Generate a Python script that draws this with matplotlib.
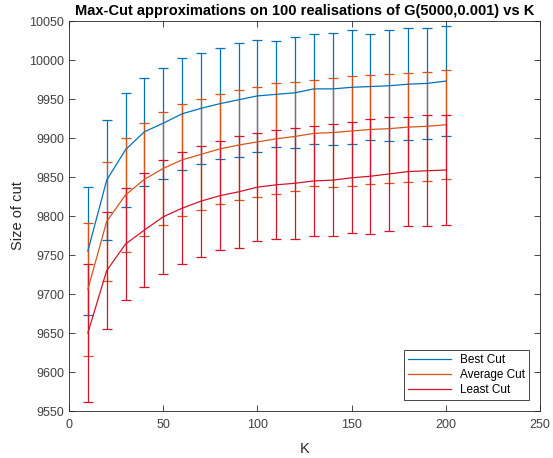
import numpy as np
import matplotlib
matplotlib.use("Agg")
import matplotlib.pyplot as plt
from matplotlib.lines import Line2D

# -------------------------------
# Data
# -------------------------------
K = [10, 20, 30, 40, 50, 60, 70, 80, 90, 100,
     110, 120, 130, 140, 150, 160, 170, 180, 190, 200]

best_mean = [9755, 9846, 9885, 9908, 9919, 9931, 9938, 9944, 9949, 9954,
             9956, 9958, 9963, 9963, 9965, 9966, 9967, 9969, 9970, 9973]
best_err = [82, 77, 73, 69, 71, 72, 71, 71, 73, 72,
            68, 71, 71, 72, 73, 68, 71, 72, 71, 70]

avg_mean = [9706, 9793, 9827, 9847, 9861, 9872, 9879, 9886, 9891, 9895,
            9899, 9902, 9906, 9907, 9909, 9911, 9912, 9914, 9915, 9917]
avg_err = [85, 76, 73, 72, 72, 72, 71, 70, 71, 71,
           71, 70, 68, 70, 70, 70, 70, 70, 70, 70]

least_mean = [9650, 9730, 9764, 9782, 9799, 9810, 9819, 9826, 9831, 9837,
              9840, 9842, 9845, 9846, 9849, 9851, 9854, 9857, 9858, 9859]
least_err = [88, 75, 72, 73, 73, 72, 71, 70, 72, 69,
             70, 71, 71, 72, 71, 74, 73, 70, 71, 70]

series = [
    ("Best Cut", best_mean, best_err, "#0072BD"),
    ("Average Cut", avg_mean, avg_err, "#D95319"),
    ("Least Cut", least_mean, least_err, "#D0142A"),
]

# -------------------------------
# Plot
# -------------------------------
plt.rcParams["font.family"] = ["Liberation Sans", "DejaVu Sans"]

fig = plt.figure(figsize=(5.53, 4.58), dpi=100)
ax = fig.add_axes([0.1248, 0.1026, 0.8517, 0.8515])

for name, m, e, c in series:
    ax.errorbar(K, m, yerr=e, color=c, linewidth=0.9, elinewidth=0.9,
                capsize=3.5, capthick=0.9, label=name)

ax.set_xlim(0, 250)
ax.set_ylim(9550, 10050)
ax.set_xticks(np.arange(0, 251, 50))
ax.set_yticks(np.arange(9550, 10051, 50))

ax.tick_params(direction="in", top=True, right=True, length=4,
               labelsize=9, colors="#262626", labelcolor="#404040", width=0.6)
ax.tick_params(axis="x", pad=6)
for s in ax.spines.values():
    s.set_color("#262626")
    s.set_linewidth(0.6)

ax.set_title("Max-Cut approximations on 100 realisations of G(5000,0.001) vs K",
             fontsize=10.5, fontweight="bold", pad=4)
ax.set_xlabel("K", fontsize=10.5, color="#262626", labelpad=8)
ax.set_ylabel("Size of cut", fontsize=10.5, color="#262626", labelpad=3)

labels = [s[0] for s in series]
proxy = [Line2D([0], [0], color=c, linewidth=0.9) for _, _, _, c in series]
leg = ax.legend(proxy, labels, loc="lower right", fontsize=8.5,
                fancybox=False, edgecolor="#262626", framealpha=1,
                handlelength=3.6, borderaxespad=0.9, labelspacing=0.25,
                borderpad=0.35)
leg.get_frame().set_linewidth(0.6)

fig.savefig("out.png", dpi=100)
